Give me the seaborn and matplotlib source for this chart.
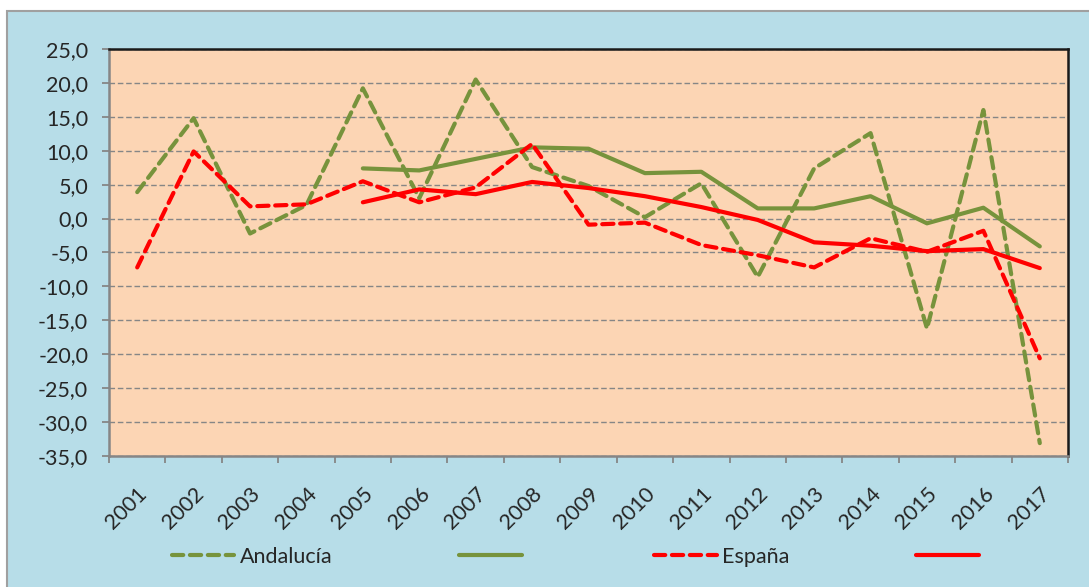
import numpy as np
import pandas as pd
import matplotlib
matplotlib.use("Agg")
from matplotlib import pyplot as plt
from matplotlib.patches import Rectangle
from matplotlib.transforms import ScaledTranslation
import seaborn as sns

years = list(range(2001, 2018))
andalucia = [3.9, 14.8, -2.2, 2.0, 19.2, 3.0, 20.5, 7.6, 4.8, 0.2, 5.2, -8.6, 7.4, 12.6, -16.2, 16.0, -33.1]
andalucia_tend = [np.nan, np.nan, np.nan, np.nan, 7.4, 7.1, 8.8, 10.5, 10.3, 6.7, 6.9, 1.5, 1.5, 3.3, -0.7, 1.6, -4.1]
espana = [-7.2, 9.9, 1.8, 2.1, 5.5, 2.4, 4.6, 11.0, -0.9, -0.6, -3.9, -5.4, -7.2, -2.9, -4.9, -1.8, -20.6]
espana_tend = [np.nan, np.nan, np.nan, np.nan, 2.4, 4.3, 3.6, 5.4, 4.5, 3.3, 1.7, -0.2, -3.5, -4.0, -4.8, -4.5, -7.3]

series_names = ["Andalucía", "Andalucía tendencia", "España", "España tendencia"]
legend_labels = ["Andalucía", "", "España", ""]
colors = ["#77933C", "#77933C", "#FF0000", "#FF0000"]
dash_styles = [(2.7, 1.6), "", (2.7, 1.6), ""]

sns.set_theme(style="ticks")
plt.rcParams["font.family"] = ["Lato", "DejaVu Sans"]

frames = []
for name, vals in zip(series_names, [andalucia, andalucia_tend, espana, espana_tend]):
    frames.append(pd.DataFrame({"year": years, "value": vals, "serie": name}))
df = pd.concat(frames).dropna()

fig = plt.figure(figsize=(10.89, 5.87), dpi=100)
fig.patch.set_facecolor("white")
fig.patches.append(Rectangle((7 / 1089, -0.01), 1.02, (587 - 11) / 587 + 0.01,
                             transform=fig.transFigure, facecolor="#B7DDE8",
                             edgecolor="#A0A0A0", linewidth=1.5, zorder=-10))

ax = fig.add_axes([109 / 1089, (587 - 456) / 587, (1068 - 109) / 1089, (456 - 49) / 587])
ax.set_facecolor("#FCD5B4")

sns.lineplot(data=df, x="year", y="value", hue="serie", style="serie",
             hue_order=series_names, style_order=series_names,
             palette=dict(zip(series_names, colors)),
             dashes=dict(zip(series_names, dash_styles)),
             linewidth=3, legend=False, ax=ax, zorder=3)
for line in ax.get_lines():
    line.set_dash_capstyle("round")

ax.set_xlim(2000.5, 2017.5)
ax.set_ylim(-35, 25)
ax.set_yticks(np.arange(-35, 26, 5))
ax.set_yticklabels([f"{v:.1f}".replace(".", ",") for v in np.arange(-35, 26, 5)], fontsize=15.5)
ax.set_xticks(years)
ax.set_xticklabels([str(y) for y in years], fontsize=15.5, rotation=45,
                   ha="right", va="center", rotation_mode="anchor")
ax.set_xticks(np.arange(2000.5, 2018, 1), minor=True)
ax.tick_params(axis="x", which="major", length=0, pad=25)
ax.tick_params(axis="x", which="minor", length=5, width=1.3, color="#868686", direction="out")
ax.tick_params(axis="y", length=5, width=1.3, color="#868686", pad=10)
for lab in ax.get_xticklabels():
    lab.set_transform(lab.get_transform() + ScaledTranslation(0.07, 0, fig.dpi_scale_trans))

ax.set_xlabel("")
ax.set_ylabel("")
ax.yaxis.grid(True, color="#868686", linestyle=(0, (4, 2)), linewidth=1)
ax.xaxis.grid(False)
ax.set_axisbelow(True)
for side in ["left", "bottom"]:
    ax.spines[side].set_color("#868686")
    ax.spines[side].set_linewidth(1.8)
for side in ["top", "right"]:
    ax.spines[side].set_color("#1A1A1A")
    ax.spines[side].set_linewidth(1.8)

handles = ax.get_lines()[:4]
fig.legend(handles, legend_labels, loc="center left",
           bbox_to_anchor=(172 / 1089, 1 - 557 / 587), ncol=4, frameon=False,
           fontsize=15.5, handlelength=2.9, handletextpad=0.25, columnspacing=5.9,
           borderaxespad=0, borderpad=0)

fig.savefig("out.png", dpi=100, facecolor=fig.get_facecolor())
